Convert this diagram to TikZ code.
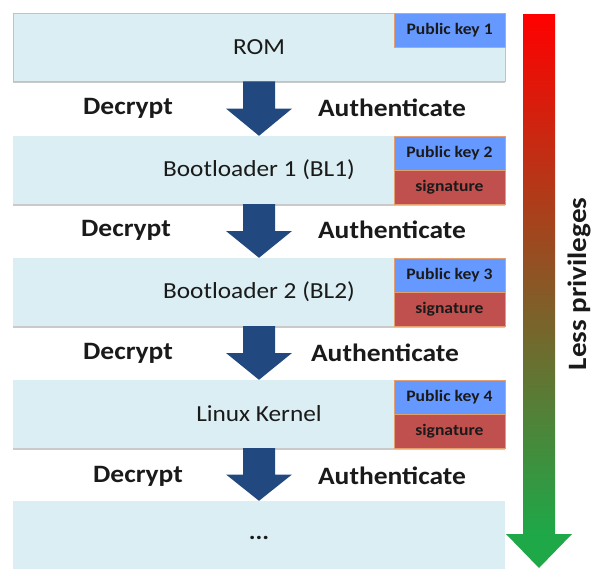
\documentclass[tikz,border=0pt]{standalone}
\usepackage{fontspec}
\setmainfont[FakeStretch=1.1]{Carlito}
\usetikzlibrary{calc,shadows}

\definecolor{stagefill}{HTML}{DAEEF3}
\definecolor{romedge}{HTML}{F2B58A}
\definecolor{keyblue}{HTML}{6699FF}
\definecolor{sigred}{HTML}{C0504D}
\definecolor{keyedge}{HTML}{E3A06E}
\definecolor{flowblue}{HTML}{21497F}
\definecolor{privred}{HTML}{FF0000}
\definecolor{privgreen}{HTML}{1EA848}
\definecolor{labelink}{HTML}{1A1A1A}

\tikzset{
  stage/.style={rectangle, fill=stagefill, minimum width=492pt, minimum height=68pt,
    inner sep=0pt, text=labelink, font=\fontsize{23}{26}\selectfont,
    drop shadow={shadow xshift=0pt, shadow yshift=-1.5pt, opacity=0.35, fill=black!60}},
  keybox/.style={rectangle, draw=keyedge, line width=0.6pt, fill=keyblue,
    minimum width=111pt, minimum height=34pt, inner sep=0pt, text=labelink,
    font=\bfseries\fontsize{16}{18}\selectfont},
  sigbox/.style={keybox, fill=sigred},
  steplabel/.style={font=\bfseries\fontsize{25}{28}\selectfont, inner sep=0pt, text=labelink},
  flowarrow/.style={fill=flowblue},
}

\newcommand{\flowdown}[2]{%
  \fill[flowarrow] ($(#1.south)+(-16,0)$) -- ($(#1.south)+(16,0)$)
    -- ($(#1.south)!0.5!(#2.north)+(16,0)$) -- ($(#1.south)!0.5!(#2.north)+(33,0)$)
    -- (#2.north) -- ($(#1.south)!0.5!(#2.north)+(-33,0)$)
    -- ($(#1.south)!0.5!(#2.north)+(-16,0)$) -- cycle;}

\begin{document}
\begin{tikzpicture}[x=1pt,y=-1pt]
  \useasboundingbox (0,0) rectangle (592,568);

  % boot stages
  \node[stage, draw=romedge, line width=0.8pt] (rom) at (259,47) {ROM};
  \node[stage] (bl1) at (259,170) {Bootloader 1 (BL1)};
  \node[stage] (bl2) at (259,292) {Bootloader 2 (BL2)};
  \node[stage] (kern) at (259,414) {Linux Kernel};
  \node[stage] (next) at (259,535) {\raisebox{-0.9ex}{\bfseries ...}};

  % keys and signatures
  \node[keybox, anchor=north east] (pk1) at (rom.north east) {Public key 1};
  \node[keybox, anchor=north east] (pk2) at (bl1.north east) {Public key 2};
  \node[sigbox, anchor=north] (sg2) at (pk2.south) {signature};
  \node[keybox, anchor=north east] (pk3) at (bl2.north east) {Public key 3};
  \node[sigbox, anchor=north] (sg3) at (pk3.south) {signature};
  \node[keybox, anchor=north east] (pk4) at (kern.north east) {Public key 4};
  \node[sigbox, anchor=north] (sg4) at (pk4.south) {signature};

  % hand-over arrows
  \flowdown{rom}{bl1}
  \flowdown{bl1}{bl2}
  \flowdown{bl2}{kern}
  \flowdown{kern}{next}

  % step labels
  \node[steplabel] (d1) at (128,108) {Decrypt};
  \node[steplabel] (a1) at (392,108) {Authenticate};
  \node[steplabel] (d2) at (126,230) {Decrypt};
  \node[steplabel] (a2) at (392,230) {Authenticate};
  \node[steplabel] (d3) at (128,353) {Decrypt};
  \node[steplabel] (a3) at (385,353) {Authenticate};
  \node[steplabel] (d4) at (138,476) {Decrypt};
  \node[steplabel] (a4) at (392,476) {Authenticate};

  % privilege scale
  \shade[top color=privred, bottom color=privgreen] (523,14) rectangle (555,534);
  \fill[privgreen] (506,534) -- (572,534) -- (539,568) -- cycle;
  \node[steplabel, font=\bfseries\fontsize{26.5}{28}\selectfont, rotate=90, anchor=base]
    (priv) at (586,284) {Less privileges};
\end{tikzpicture}
\end{document}
